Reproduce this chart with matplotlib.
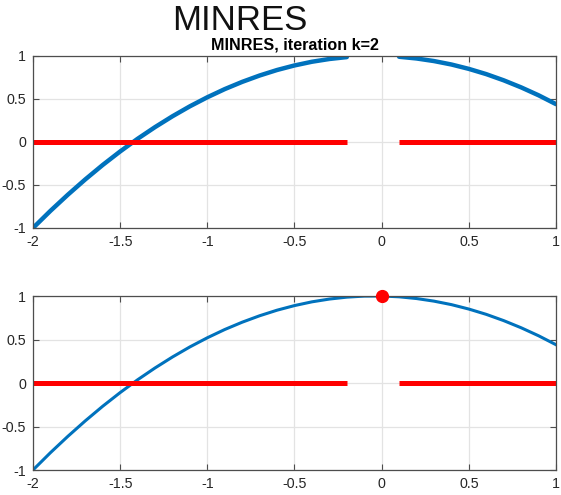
import matplotlib
matplotlib.use("Agg")
import matplotlib.pyplot as plt
import numpy as np

plt.rcParams["font.family"] = ["Liberation Sans", "DejaVu Sans"]
plt.rcParams["axes.unicode_minus"] = False

# Residual polynomial after k=2 MINRES steps, sampled on [-2, 1]
x_vals = [-2.0, -1.9, -1.8, -1.7, -1.6, -1.5, -1.4, -1.3, -1.2, -1.1, -1.0,
          -0.9, -0.8, -0.7, -0.6, -0.5, -0.4, -0.3, -0.2, -0.1, 0.0,
          0.1, 0.2, 0.3, 0.4, 0.5, 0.6, 0.7, 0.8, 0.9, 1.0]
p_vals = [-1.000, -0.801, -0.613, -0.435, -0.267, -0.110, 0.037, 0.173, 0.299, 0.415, 0.520,
          0.615, 0.699, 0.773, 0.837, 0.890, 0.933, 0.965, 0.987, 0.999, 1.000,
          0.991, 0.971, 0.941, 0.901, 0.850, 0.789, 0.717, 0.635, 0.543, 0.440]

# Spectrum intervals of the matrix
spectrum = [(-2.0, -0.2), (0.1, 1.0)]

# Normalisation point p(0) = 1
anchor_x = [0.0]
anchor_y = [1.0]

xticks = [-2, -1.5, -1, -0.5, 0, 0.5, 1]
xticklabels = ["-2", "-1.5", "-1", "-0.5", "0", "0.5", "1"]
yticks = [-1, -0.5, 0, 0.5, 1]
yticklabels = ["-1", "-0.5", "0", "0.5", "1"]

BLUE = "#0072BD"
RED = "#FF0000"
AX_COLOR = "#4d4d4d"

fig = plt.figure(figsize=(5.61, 4.95), dpi=100)
ax1 = fig.add_axes([0.0588, 0.5394, 0.9323, 0.3475])
ax2 = fig.add_axes([0.0588, 0.0505, 0.9323, 0.3515])

x = np.array(x_vals)
p = np.array(p_vals)


def style(ax):
    ax.set_xlim(-2, 1)
    ax.set_ylim(-1, 1)
    ax.set_xticks(xticks)
    ax.set_xticklabels(xticklabels)
    ax.set_yticks(yticks)
    ax.set_yticklabels(yticklabels)
    ax.grid(True, color="#e3e3e3", linewidth=0.9)
    ax.set_axisbelow(True)
    ax.tick_params(direction="in", length=4, width=0.8, top=True, right=True,
                   colors=AX_COLOR, labelcolor="#262626", labelsize=10.3, pad=5)
    for s in ax.spines.values():
        s.set_color(AX_COLOR)
        s.set_linewidth(0.9)


# Top: polynomial restricted to the spectrum
for lo, hi in spectrum:
    m = (x >= lo - 1e-9) & (x <= hi + 1e-9)
    ax1.plot(x[m], p[m], color=BLUE, linewidth=3.2, solid_capstyle="round")
    ax1.plot([lo, hi], [0, 0], color=RED, linewidth=3.6, solid_capstyle="butt")
style(ax1)
ax1.set_title("MINRES, iteration k=2", fontsize=11.6, fontweight="bold", pad=5)

# Bottom: polynomial over the whole range
ax2.plot(x, p, color=BLUE, linewidth=2.2)
for lo, hi in spectrum:
    ax2.plot([lo, hi], [0, 0], color=RED, linewidth=3.6, solid_capstyle="butt")
ax2.plot(anchor_x, anchor_y, "o", color=RED, markersize=8.5, clip_on=False, zorder=5)
style(ax2)

fig.text(0.428, 0.94, "MINRES", fontsize=25, ha="center", va="baseline", color="#111111")

fig.savefig("out.png", dpi=100)
